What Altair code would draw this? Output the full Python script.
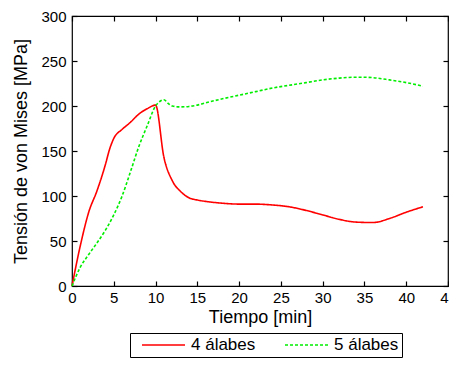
import altair as alt
import pandas as pd

series_names = ["4 álabes", "5 álabes"]

red_t = [0, 1, 2, 3, 4, 4.5, 5, 6, 7, 8, 9, 10, 11, 12, 13, 14, 15, 16, 18, 20, 22, 24, 26, 28, 30, 32, 34, 36, 38, 40, 42]
red_v = [0, 45, 82, 106, 135, 152, 164, 174, 182, 191, 197, 201, 143, 117, 105, 98, 95.5, 94, 92, 91, 91, 90, 88, 84, 79, 74, 71, 70.5, 75, 82, 88]

green_t = [0, 1, 2, 3, 4, 5, 6, 7, 8, 9, 10, 10.5, 11, 11.5, 12, 13, 14, 15, 16, 18, 20, 22, 24, 26, 28, 30, 32, 34, 35, 36, 38, 40, 42]
green_v = [0, 21, 35, 48, 62, 79, 100, 127, 155, 178, 200, 205, 207, 203, 200, 199, 199.5, 201, 203.5, 208, 212, 216, 220, 223, 226, 229, 231, 232, 232, 231.5, 229, 226, 222]

x_ticks = [0, 5, 10, 15, 20, 25, 30, 35, 40, 45]
y_ticks = [0, 50, 100, 150, 200, 250, 300]

rows = []
for t, v in zip(red_t, red_v):
    rows.append({"t": t, "v": v, "serie": series_names[0]})
for t, v in zip(green_t, green_v):
    rows.append({"t": t, "v": v, "serie": series_names[1]})
df = pd.DataFrame(rows)

xs = alt.Scale(domain=[0, 45], nice=False)
ys = alt.Scale(domain=[0, 300], nice=False)

legend_opts = dict(title=None, orient="none", legendX=58, legendY=317,
                   direction="horizontal", symbolType="stroke", symbolSize=1849,
                   clipHeight=18, symbolStrokeWidth=1.5, labelFontSize=17, labelOffset=5,
                   columnPadding=20, padding=3, symbolOffset=8, strokeColor="black",
                   fillColor="white", cornerRadius=0)

main = alt.Chart(df).mark_line(strokeWidth=1.6, interpolate="monotone").encode(
    x=alt.X("t:Q", scale=xs, axis=alt.Axis(orient="bottom", values=x_ticks, title="Tiempo [min]",
                                           offset=-5, tickSize=5, domain=False, grid=False,
                                           labelPadding=4, titlePadding=3, labelFlush=False)),
    y=alt.Y("v:Q", scale=ys, axis=alt.Axis(orient="left", values=y_ticks, title="Tensión de von Mises [MPa]",
                                           offset=-5, tickSize=5, domain=False, grid=False,
                                           labelPadding=6, titlePadding=10, labelFlush=False)),
    color=alt.Color("serie:N", scale=alt.Scale(domain=series_names, range=["#ff0000", "#00ee00"]),
                    legend=alt.Legend(**legend_opts)),
    strokeDash=alt.StrokeDash("serie:N", scale=alt.Scale(domain=series_names, range=[[1, 0], [3, 2]]),
                              legend=alt.Legend(**legend_opts)),
)

mirror = alt.Chart(df).mark_line(opacity=0).encode(
    x=alt.X("t:Q", scale=xs, axis=alt.Axis(orient="top", values=x_ticks, title=None, labels=False,
                                           offset=-5, tickSize=5, domain=False, grid=False)),
    y=alt.Y("v:Q", scale=ys, axis=alt.Axis(orient="right", values=y_ticks, title=None, labels=False,
                                           offset=-5, tickSize=5, domain=False, grid=False)),
)

chart = alt.layer(main, mirror).resolve_axis(x="independent", y="independent").properties(
    width=376, height=270,
    autosize=alt.AutoSizeParams(type="none"),
    padding={"left": 64, "top": 8, "right": 1, "bottom": 73},
).configure(font="Liberation Sans").configure_view(
    stroke="black", strokeWidth=1.2
).configure_axis(
    labelFontSize=15, titleFontSize=18, titleFontWeight="normal", labelColor="black",
    titleColor="black", tickColor="black", tickWidth=1.2
)

chart.save("out.html", embed_options={"renderer": "svg", "actions": False})
